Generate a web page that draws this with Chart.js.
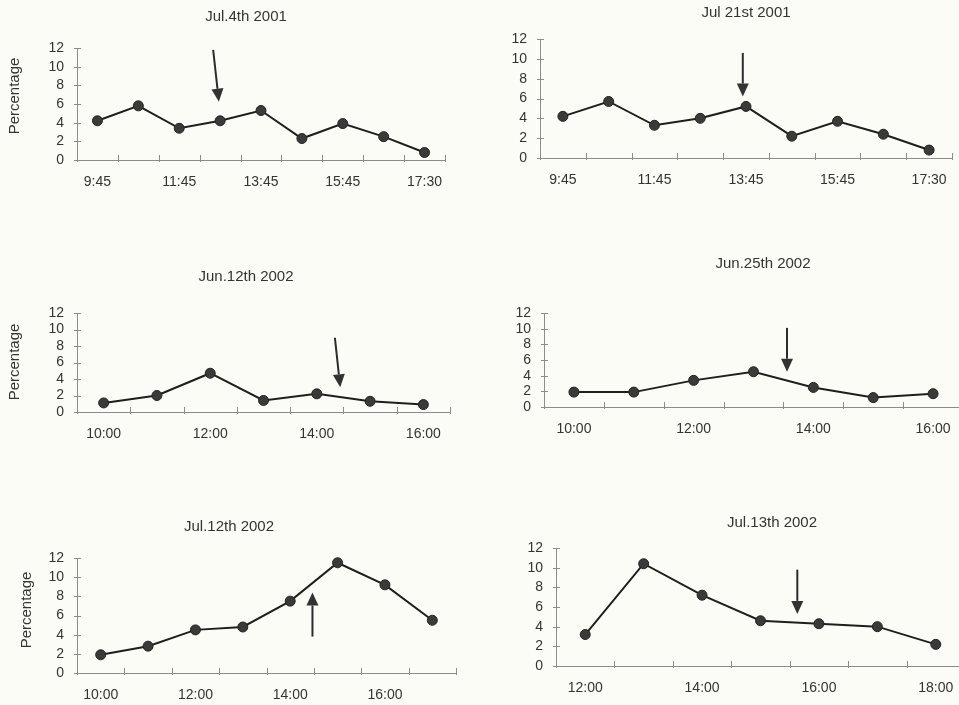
<!DOCTYPE html>
<html>
<head>
<meta charset="utf-8">
<script src="https://cdn.jsdelivr.net/npm/chart.js@4"></script>
<style>
  html, body { margin: 0; padding: 0; background: #fcfcf7; overflow: hidden; }
  body { width: 959px; height: 705px; position: relative; }
  .celula { position: absolute; }
</style>
</head>
<body>
<script>
// ===== Dados =====
const horasJul4 = ['9:45', '10:45', '11:45', '12:45', '13:45', '14:45', '15:45', '16:45', '17:30'];
const valoresJul4 = [4.2, 5.8, 3.4, 4.2, 5.3, 2.3, 3.9, 2.5, 0.8];

const horasJul21 = ['9:45', '10:45', '11:45', '12:45', '13:45', '14:45', '15:45', '16:45', '17:30'];
const valoresJul21 = [4.2, 5.7, 3.3, 4.0, 5.2, 2.2, 3.7, 2.4, 0.8];

const horasJun12 = ['10:00', '11:00', '12:00', '13:00', '14:00', '15:00', '16:00'];
const valoresJun12 = [1.1, 2.0, 4.7, 1.4, 2.2, 1.3, 0.9];

const horasJun25 = ['10:00', '11:00', '12:00', '13:00', '14:00', '15:00', '16:00'];
const valoresJun25 = [1.9, 1.9, 3.4, 4.5, 2.5, 1.2, 1.7];

const horasJul12 = ['10:00', '11:00', '12:00', '13:00', '14:00', '15:00', '16:00', '17:00'];
const valoresJul12 = [1.9, 2.8, 4.5, 4.8, 7.5, 11.5, 9.2, 5.5];

const horasJul13 = ['12:00', '13:00', '14:00', '15:00', '16:00', '17:00', '18:00'];
const valoresJul13 = [3.2, 10.4, 7.2, 4.6, 4.3, 4.0, 2.2];

// eixo Y comum
const yMin = 0;
const yMax = 12;
const yPasso = 2;

// setas (indice da categoria, valor) -> (indice, valor)
const setaJul4 = [[2.83, 11.8], [2.97, 6.25]];
const setaJul21 = [[3.93, 10.6], [3.93, 6.2]];
const setaJun12 = [[4.34, 9.0], [4.44, 3.0]];
const setaJun25 = [[3.56, 10.1], [3.56, 4.5]];
const setaJul12 = [[4.47, 3.8], [4.47, 8.4]];
const setaJul13 = [[3.63, 9.8], [3.63, 5.3]];

const fonte = "'Liberation Sans', Arial, sans-serif";
const corTexto = '#333';
const corEixo = '#8c8c8c';

// ===== Layout de cada painel =====
const paineis = [
  { titulo: 'Jul.4th 2001', horas: horasJul4, valores: valoresJul4, seta: setaJul4,
    celula: { x: 0, y: 0, w: 480, h: 230 }, area: { l: 77, t: 48, r: 445, b: 160 },
    tit: [246, 17], eixo: [15, 96] },
  { titulo: 'Jul 21st 2001', horas: horasJul21, valores: valoresJul21, seta: setaJul21,
    celula: { x: 480, y: 0, w: 495, h: 230 }, area: { l: 540, t: 39, r: 952, b: 158 },
    tit: [746, 13], eixo: null },
  { titulo: 'Jun.12th 2002', horas: horasJun12, valores: valoresJun12, seta: setaJun12,
    celula: { x: 0, y: 230, w: 480, h: 250 }, area: { l: 77, t: 313, r: 450, b: 412 },
    tit: [246, 277], eixo: [15, 362] },
  { titulo: 'Jun.25th 2002', horas: horasJun25, valores: valoresJun25, seta: setaJun25,
    celula: { x: 480, y: 230, w: 495, h: 250 }, area: { l: 544, t: 313, r: 963, b: 407 },
    tit: [763, 264], eixo: null },
  { titulo: 'Jul.12th 2002', horas: horasJul12, valores: valoresJul12, seta: setaJul12,
    celula: { x: 0, y: 480, w: 480, h: 225 }, area: { l: 77, t: 558, r: 456, b: 673 },
    tit: [229, 527], eixo: [27, 610] },
  { titulo: 'Jul.13th 2002', horas: horasJul13, valores: valoresJul13, seta: setaJul13,
    celula: { x: 480, y: 480, w: 495, h: 225 }, area: { l: 556, t: 548, r: 965, b: 666 },
    tit: [772, 523], eixo: null }
];

// plugin: marcas nos eixos, titulo, "Percentage" e seta
const extras = {
  id: 'extras',
  afterDatasetsDraw(chart, args, opts) {
    const p = opts.painel;
    const ctx = chart.ctx;
    const sx = chart.scales.x;
    const sy = chart.scales.y;
    const area = chart.chartArea;
    ctx.save();

    // marcas cruzando os eixos
    ctx.strokeStyle = corEixo;
    ctx.lineWidth = 1;
    ctx.beginPath();
    for (let i = 0; i <= p.horas.length; i++) {
      const x = Math.round(sx.getPixelForValue(i - 0.5)) + 0.5;
      ctx.moveTo(x, area.bottom - 5);
      ctx.lineTo(x, area.bottom + 2);
    }
    for (let v = yMin; v <= yMax; v += yPasso) {
      const y = Math.round(sy.getPixelForValue(v)) + 0.5;
      ctx.moveTo(area.left - 3, y);
      ctx.lineTo(area.left + 4, y);
    }
    ctx.stroke();

    // titulo
    ctx.fillStyle = corTexto;
    ctx.font = '15px ' + fonte;
    ctx.textAlign = 'center';
    ctx.textBaseline = 'middle';
    ctx.fillText(p.titulo, p.tit[0] - p.celula.x, p.tit[1] - p.celula.y);

    // titulo do eixo
    if (p.eixo) {
      ctx.save();
      ctx.translate(p.eixo[0] - p.celula.x, p.eixo[1] - p.celula.y);
      ctx.rotate(-Math.PI / 2);
      ctx.fillText('Percentage', 0, 0);
      ctx.restore();
    }

    // seta
    const x0 = sx.getPixelForValue(p.seta[0][0]);
    const y0 = sy.getPixelForValue(p.seta[0][1]);
    const x1 = sx.getPixelForValue(p.seta[1][0]);
    const y1 = sy.getPixelForValue(p.seta[1][1]);
    const ang = Math.atan2(y1 - y0, x1 - x0);
    const cab = 13, larg = 6;
    const bx = x1 - cab * Math.cos(ang);
    const by = y1 - cab * Math.sin(ang);
    ctx.strokeStyle = '#2b2b2b';
    ctx.fillStyle = '#333';
    ctx.lineWidth = 2;
    ctx.beginPath();
    ctx.moveTo(x0, y0);
    ctx.lineTo(bx, by);
    ctx.stroke();
    ctx.beginPath();
    ctx.moveTo(x1, y1);
    ctx.lineTo(bx + larg * Math.sin(ang), by - larg * Math.cos(ang));
    ctx.lineTo(bx - larg * Math.sin(ang), by + larg * Math.cos(ang));
    ctx.closePath();
    ctx.fill();

    ctx.restore();
  }
};

paineis.forEach(p => {
  const div = document.createElement('div');
  div.className = 'celula';
  div.style.left = p.celula.x + 'px';
  div.style.top = p.celula.y + 'px';
  div.style.width = p.celula.w + 'px';
  div.style.height = p.celula.h + 'px';
  const canvas = document.createElement('canvas');
  div.appendChild(canvas);
  document.body.appendChild(div);

  const larguraY = p.area.l - p.celula.x;
  const alturaX = p.celula.y + p.celula.h - p.area.b;

  new Chart(canvas.getContext('2d'), {
    type: 'line',
    data: {
      labels: p.horas,
      datasets: [{
        data: p.valores,
        borderColor: '#1e1e1e',
        borderWidth: 2,
        pointRadius: 5,
        pointBackgroundColor: '#3a3a3a',
        pointBorderColor: '#222',
        pointBorderWidth: 1,
        tension: 0,
        clip: false
      }]
    },
    options: {
      responsive: true,
      maintainAspectRatio: false,
      animation: false,
      layout: {
        padding: {
          top: p.area.t - p.celula.y,
          right: p.celula.x + p.celula.w - p.area.r,
          left: 0,
          bottom: 0
        }
      },
      plugins: {
        legend: { display: false },
        tooltip: { enabled: false },
        extras: { painel: p }
      },
      scales: {
        x: {
          type: 'category',
          offset: true,
          grid: { display: true, offset: true, drawOnChartArea: false, drawTicks: false },
          border: { display: true, color: corEixo, width: 1 },
          ticks: {
            autoSkip: false,
            maxRotation: 0,
            padding: 14,
            color: corTexto,
            font: { family: fonte, size: 14 },
            callback: (v, i) => (i % 2 === 0 ? p.horas[i] : '')
          },
          afterFit: s => { s.height = alturaX; }
        },
        y: {
          min: yMin,
          max: yMax,
          grid: { display: true, drawOnChartArea: false, drawTicks: false },
          border: { display: true, color: corEixo, width: 1 },
          ticks: {
            stepSize: yPasso,
            autoSkip: false,
            padding: 13,
            color: corTexto,
            font: { family: fonte, size: 14 }
          },
          afterFit: s => { s.width = larguraY; }
        }
      }
    },
    plugins: [extras]
  });
});
</script>
</body>
</html>
